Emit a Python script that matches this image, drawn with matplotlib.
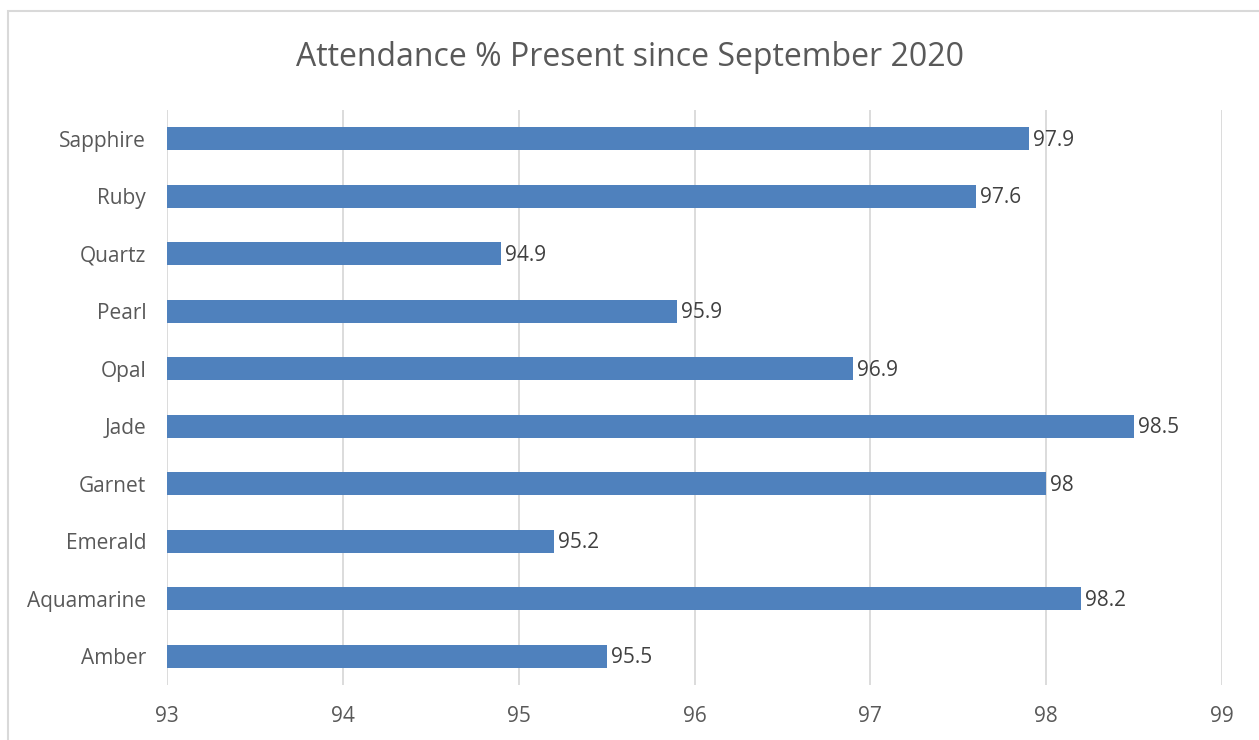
import matplotlib
matplotlib.use("Agg")
import matplotlib.pyplot as plt
from matplotlib.patches import Rectangle

categories = ["Amber", "Aquamarine", "Emerald", "Garnet", "Jade",
              "Opal", "Pearl", "Quartz", "Ruby", "Sapphire"]
values = [95.5, 98.2, 95.2, 98.0, 98.5, 96.9, 95.9, 94.9, 97.6, 97.9]
value_labels = ["95.5", "98.2", "95.2", "98", "98.5", "96.9", "95.9", "94.9", "97.6", "97.9"]
xticks = [93, 94, 95, 96, 97, 98, 99]
title = "Attendance % Present since September 2020"

plt.rcParams['font.family'] = ['Open Sans', 'DejaVu Sans']
txt = '#595959'

fig = plt.figure(figsize=(12.59, 7.40), dpi=100)
fig.patches.append(Rectangle((8/1259, -0.5), 1.5, 0.5 + (740-11)/740, transform=fig.transFigure,
                             fill=False, edgecolor='#D9D9D9', linewidth=1.5))

ax = fig.add_axes([167/1259, (740-685)/740, (1222-167)/1259, (685-110)/740])
xmin = xticks[0]
bars = ax.barh(range(len(categories)), [v - xmin for v in values], left=xmin,
               height=0.4, color='#4F81BD', zorder=3)
ax.set_xlim(xticks[0], xticks[-1])
ax.set_ylim(-0.5, len(categories) - 0.5)
ax.set_xticks(xticks)
ax.set_xticklabels([str(t) for t in xticks])
ax.set_yticks(range(len(categories)))
ax.set_yticklabels(categories)
ax.grid(axis='x', color='#D9D9D9', linewidth=1.3, zorder=0)
for s in ax.spines.values():
    s.set_visible(False)
ax.tick_params(length=0, colors=txt, labelsize=15)
ax.tick_params(axis='x', pad=15)
ax.tick_params(axis='y', pad=15)

for i, (v, lab) in enumerate(zip(values, value_labels)):
    ax.annotate(lab, (v, i), xytext=(3, -1), textcoords='offset points',
                va='center', ha='left', color='#404040', fontsize=15)

fig.text(0.5, (740-57)/740, title, ha='center', va='center', color=txt, fontsize=23)

fig.savefig("out.png", dpi=100)
